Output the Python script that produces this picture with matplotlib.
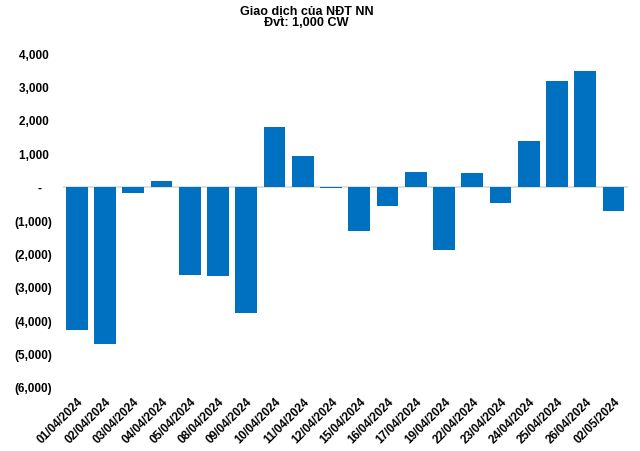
import matplotlib
matplotlib.use("Agg")
import matplotlib.pyplot as plt
from matplotlib.ticker import FuncFormatter, MultipleLocator
from matplotlib import font_manager

dates = ["01/04/2024", "02/04/2024", "03/04/2024", "04/04/2024", "05/04/2024",
         "08/04/2024", "09/04/2024", "10/04/2024", "11/04/2024", "12/04/2024",
         "15/04/2024", "16/04/2024", "17/04/2024", "19/04/2024", "22/04/2024",
         "23/04/2024", "24/04/2024", "25/04/2024", "26/04/2024", "02/05/2024"]
values = [-4300, -4700, -180, 160, -2650, -2690, -3770, 1770, 930, -50,
          -1320, -590, 450, -1890, 420, -480, 1380, 3170, 3470, -720]

names = {f.name for f in font_manager.fontManager.ttflist}
fam = "Liberation Sans Narrow" if "Liberation Sans Narrow" in names else "Liberation Sans"

fig = plt.figure(figsize=(6.4, 4.52), dpi=100)
ax = fig.add_axes([0.0978, 0.1416, 0.883, 0.7389])
x = list(range(len(dates)))
ax.bar(x, values, width=0.77, color="#0070C0", zorder=2)
ax.axhline(0, color="#D9D9D9", lw=1.2, zorder=1)
ax.set_xlim(-0.5, len(dates) - 0.5)
ax.set_ylim(-6000, 4000)
ax.yaxis.set_major_locator(MultipleLocator(1000))

def fmt(v, pos):
    v = int(round(v))
    if v == 0:
        return "-   "
    if v < 0:
        return f"({-v:,})"
    return f"{v:,} "
ax.yaxis.set_major_formatter(FuncFormatter(fmt))
for s in ax.spines.values():
    s.set_visible(False)
ax.tick_params(axis="both", length=0)
ax.tick_params(axis="y", pad=7.5)
ax.tick_params(axis="x", pad=6)
ax.set_xticks(x)
ax.set_xticklabels(dates, rotation=45, ha="right", rotation_mode="anchor",
                   fontsize=8.5, fontweight="bold", family=fam)
for lab in ax.get_yticklabels():
    lab.set_fontsize(8.5)
    lab.set_fontweight("bold")
    lab.set_family(fam)

fig.text(0.479, 0.988, "Giao dịch của NĐT NN\nĐvt: 1,000 CW", ha="center", va="top",
         fontsize=9.1, fontweight="bold", family=fam, linespacing=1.0)
fig.savefig("out.png", dpi=100)
